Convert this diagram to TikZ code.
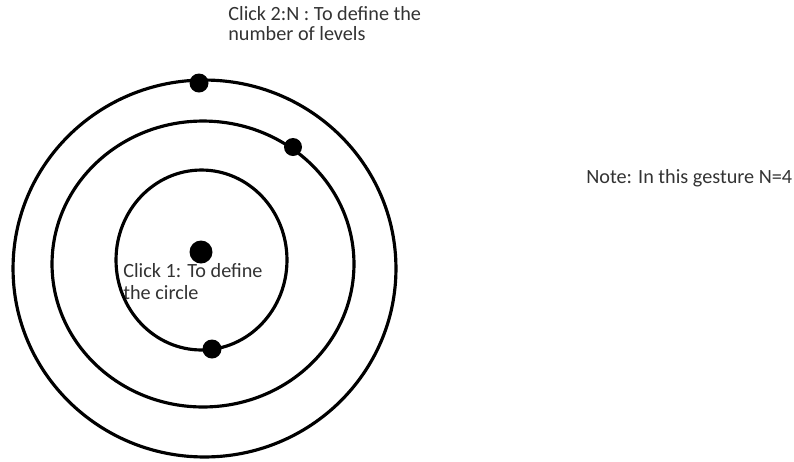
\documentclass[tikz,border=0pt]{standalone}
\usepackage{fontspec}
\setmainfont{Carlito}
\usepackage{tikz}
\usetikzlibrary{positioning}

\begin{document}
\begin{tikzpicture}[
  x=0.02cm, y=-0.02cm,
  ring/.style={line width=1.8pt},
  dot/.style={circle, fill=black, inner sep=0pt, minimum size=0.38cm},
  bigdot/.style={dot, minimum size=0.46cm},
  note/.style={anchor=base west, inner sep=0pt, align=left, text=black!80},
]
\useasboundingbox (0,0) rectangle (794,461);

% ---- labels (anchored at the baseline of the last line) ---------------------
\node[note, font=\fontsize{11.5}{11}\selectfont] (clicktwo) at (228,40)
  {Click 2:N : To define the\\number of levels};
\node[note, font=\fontsize{11.5}{12.5}\selectfont] (clickone) at (123,299)
  {Click 1: To define\\the circle};
\node[note, font=\fontsize{11.5}{12.5}\selectfont] (gesture) at (586,183)
  {Note: In this gesture N=4};

% ---- levels ----------------------------------------------------------------
\draw[ring] (204.5,268.5) ellipse [x radius=3.83cm, y radius=3.77cm];
\draw[ring] (203,264) ellipse [x radius=3.02cm, y radius=2.86cm];
\draw[ring] (201.5,260) ellipse [x radius=1.71cm, y radius=1.80cm];

% ---- clicks ----------------------------------------------------------------
\node[bigdot] (centre) at (201,252) {};
\node[dot] (innerdot) at (212,349) {};
\node[dot, minimum size=0.36cm] (middot) at (293,147) {};
\node[dot] (outerdot) at (199,83) {};
\end{tikzpicture}
\end{document}
